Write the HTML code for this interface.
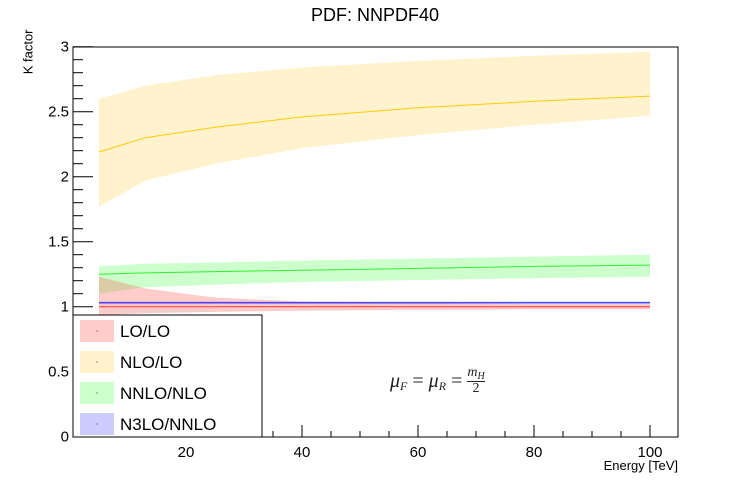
<!DOCTYPE html>
<html><head><meta charset="utf-8"><style>
body{margin:0;background:#fff;font-family:"Liberation Sans",sans-serif}
svg text{font-family:"Liberation Sans",sans-serif}
</style></head><body>
<svg id="c" width="750" height="480"></svg>
<script>
const energies=[5,13,25,40,60,80,100];
const loC=[1,1,1,1,1,1,1];
const loUp=[1.23,1.14,1.07,1.04,1.03,1.02,1.02];
const loDn=[0.935,0.95,0.96,0.97,0.975,0.98,0.98];
const nloC=[2.19,2.3,2.38,2.46,2.53,2.58,2.62];
const nloUp=[2.6,2.7,2.78,2.84,2.89,2.93,2.96];
const nloDn=[1.77,1.97,2.1,2.22,2.32,2.4,2.47];
const nnloC=[1.25,1.26,1.27,1.28,1.295,1.31,1.32];
const nnloUp=[1.31,1.33,1.34,1.355,1.37,1.385,1.4];
const nnloDn=[1.1,1.15,1.17,1.19,1.205,1.22,1.23];
const n3C=[1.03,1.03,1.03,1.03,1.03,1.03,1.03];
const n3Up=[1.04,1.04,1.04,1.04,1.04,1.04,1.04];
const n3Dn=[1.02,1.02,1.02,1.02,1.02,1.02,1.02];
const yTicks=[0,0.5,1,1.5,2,2.5,3];
const yTickLabels=["0","0.5","1","1.5","2","2.5","3"];
const xTicks=[20,40,60,80,100];
const xTickLabels=["20","40","60","80","100"];
const legendLabels=["LO/LO","NLO/LO","NNLO/NLO","N3LO/NNLO"];

const L=73,R=678,T=47,B=437;
const sx=v=>70+(v)*5.8;
const sy=v=>436.7-v*130;
const svg=document.getElementById('c');
const NS='http://www.w3.org/2000/svg';
function mk(tag,attrs,parent){const e=document.createElementNS(NS,tag);for(const k in attrs)e.setAttribute(k,attrs[k]);(parent||svg).appendChild(e);return e;}
function band(up,dn,fill,name){
  let p=energies.map((e,i)=>sx(e)+','+sy(up[i])).join(' ')+' '+energies.map((e,i)=>sx(e)+','+sy(dn[i])).reverse().join(' ');
  const el=mk('polygon',{points:p,fill:fill});
  
  
}
function line(c,stroke,name){
  const el=mk('polyline',{points:energies.map((e,i)=>sx(e)+','+sy(c[i])).join(' '),fill:'none',stroke:stroke,'stroke-width':1});
  
  
}
band(nloUp,nloDn,'rgba(255,204,51,0.25)','nlo-lo-band');
band(nnloUp,nnloDn,'rgba(51,255,51,0.25)','nnlo-nlo-band');
band(loUp,loDn,'rgba(255,51,51,0.25)','lo-lo-band');
band(n3Up,n3Dn,'rgba(51,51,255,0.25)','n3lo-nnlo-band');
line(nloC,'#ffcc00','nlo-lo-line');
line(nnloC,'#33ee33','nnlo-nlo-line');
line(loC,'#ff3333','lo-lo-line');
line(n3C,'#2222ff','n3lo-nnlo-line');

let f=mk('rect',{x:L,y:T,width:R-L,height:B-T,fill:'none',stroke:'#000','stroke-width':1});

for(let v=0;v<=3.001;v+=0.1){const y=sy(v);const major=Math.abs(v*2-Math.round(v*2))<1e-6;mk('line',{x1:L,x2:L+(major?20:10),y1:y,y2:y,stroke:'#000'});}
yTicks.forEach((v,i)=>{const t=mk('text',{x:L-4,y:sy(v)+5,'text-anchor':'end','font-size':15});t.textContent=yTickLabels[i];
});
for(let v=5;v<=104;v+=5){const x=sx(v);const major=v%20===0;mk('line',{x1:x,x2:x,y1:B,y2:B-(major?12:6),stroke:'#000'});}
xTicks.forEach((v,i)=>{const t=mk('text',{x:sx(v),y:B+20,'text-anchor':'middle','font-size':15});t.textContent=xTickLabels[i];
});

const lg=mk('g',{});

mk('rect',{x:73,y:315,width:189,height:122,fill:'#fff',stroke:'#000'},lg);
const cols=['rgba(255,51,51,0.25)','rgba(255,204,51,0.25)','rgba(51,255,51,0.25)','rgba(51,51,255,0.25)'];
legendLabels.forEach((s,i)=>{const y=320+i*31;
 const r=mk('rect',{x:80,y:y,width:34,height:22,fill:cols[i]},lg);
 
 mk('rect',{x:96.5,y:y+10.5,width:1,height:1,fill:'#333'},lg);
 const t=mk('text',{x:120,y:y+17,'font-size':17},lg);t.textContent=s;
 });
</script>
<div style="position:absolute;left:0;width:750px;top:5px;text-align:center;font-size:18px">PDF: NNPDF40</div>
<div style="position:absolute;top:62px;font-size:13px;transform:rotate(-90deg);transform-origin:center;width:80px;text-align:right;left:-12px">K factor</div>
<div style="position:absolute;right:72px;top:458px;font-size:13px">Energy [TeV]</div>
<div style="position:absolute;left:390px;top:366px;font-family:'Liberation Serif',serif;font-size:20px;font-style:italic;color:#222;display:flex;align-items:center;white-space:nowrap">μ<span style="font-size:12px;position:relative;top:5px">F</span>&nbsp;<span style="font-style:normal">=</span>&nbsp;μ<span style="font-size:12px;position:relative;top:5px">R</span>&nbsp;<span style="font-style:normal">=</span>&nbsp;<span style="display:inline-flex;flex-direction:column;align-items:center;font-size:14px;line-height:14px"><span style="border-bottom:1px solid #222">m<span style="font-size:10px;position:relative;top:3px">H</span></span><span style="font-style:normal">2</span></span></div>
</body></html>
